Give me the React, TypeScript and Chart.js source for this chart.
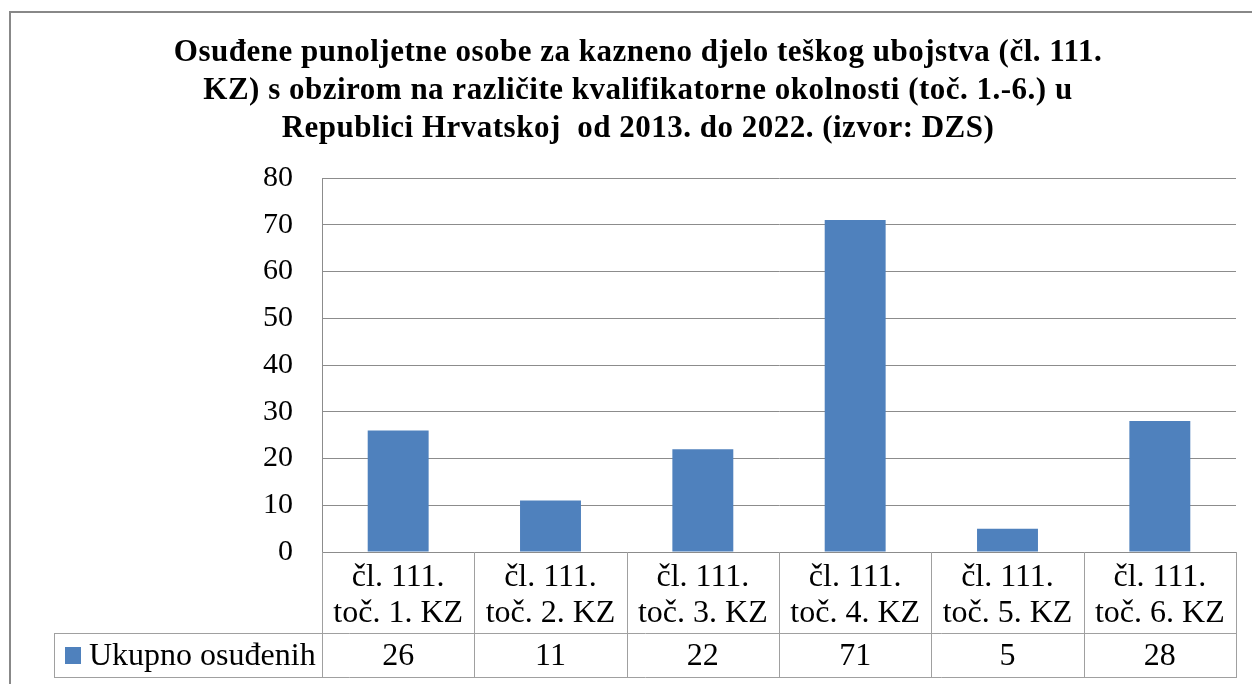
import React, { useEffect, useRef } from "react";
import { Chart, registerables } from "chart.js";

Chart.register(...registerables);

const titleLines: string[] = [
  "Osuđene punoljetne osobe za kazneno djelo teškog ubojstva (čl. 111.",
  "KZ) s obzirom na različite kvalifikatorne okolnosti (toč. 1.-6.) u",
  "Republici Hrvatskoj  od 2013. do 2022. (izvor: DZS)",
];

const categoryLines: string[][] = [
  ["čl. 111.", "toč. 1. KZ"],
  ["čl. 111.", "toč. 2. KZ"],
  ["čl. 111.", "toč. 3. KZ"],
  ["čl. 111.", "toč. 4. KZ"],
  ["čl. 111.", "toč. 5. KZ"],
  ["čl. 111.", "toč. 6. KZ"],
];

const categories: string[] = categoryLines.map((l) => l.join(" "));

const seriesName = "Ukupno osuđenih";
const seriesValues: number[] = [26, 11, 22, 71, 5, 28];

const yMin = 0;
const yMax = 80;
const yStep = 10;

const BAR_COLOR = "#4F81BD";
const GRID_COLOR = "#8c8c8c";
const TABLE_COLOR = "#a0a0a0";
const SERIF = "'Liberation Serif', 'Times New Roman', serif";

const tablePlugin = {
  id: "excelTable",
  afterDraw(chart: any) {
    const ctx: CanvasRenderingContext2D = chart.ctx;
    const area = chart.chartArea;
    const xs = chart.scales.x;
    ctx.save();

    // outer frame
    ctx.strokeStyle = "#888888";
    ctx.lineWidth = 2;
    ctx.strokeRect(10, 12, 1400, 800);

    // title
    ctx.fillStyle = "#000";
    ctx.font = `bold 31px ${SERIF}`;
    (ctx as any).letterSpacing = "0.5px";
    ctx.textAlign = "center";
    ctx.textBaseline = "alphabetic";
    const tBase = [61, 99, 137];
    titleLines.forEach((t, i) => ctx.fillText(t, 638, tBase[i]));
    (ctx as any).letterSpacing = "0px";

    // table geometry
    const rowTop = area.bottom;
    const rowMid = area.bottom + 81;
    const rowBot = area.bottom + 125;
    const legendLeft = 54;
    const n = chart.data.labels.length;
    const bounds: number[] = [area.left];
    for (let i = 1; i < n; i++) {
      bounds.push((xs.getPixelForValue(i - 1) + xs.getPixelForValue(i)) / 2);
    }
    bounds.push(area.right);

    ctx.strokeStyle = TABLE_COLOR;
    ctx.lineWidth = 1;
    ctx.beginPath();
    bounds.forEach((bx) => {
      const x = Math.round(bx) + 0.5;
      ctx.moveTo(x, rowTop);
      ctx.lineTo(x, rowBot);
    });
    ctx.moveTo(legendLeft + 0.5, rowMid);
    ctx.lineTo(legendLeft + 0.5, rowBot);
    ctx.moveTo(legendLeft, rowMid + 0.5);
    ctx.lineTo(area.right + 1, rowMid + 0.5);
    ctx.moveTo(legendLeft, rowBot + 0.5);
    ctx.lineTo(area.right + 1, rowBot + 0.5);
    ctx.stroke();

    // category labels and values
    ctx.fillStyle = "#000";
    ctx.font = `32px ${SERIF}`;
    ctx.textAlign = "center";
    for (let i = 0; i < n; i++) {
      const cx = xs.getPixelForValue(i);
      categoryLines[i].forEach((line, j) => {
        ctx.fillText(line, cx, rowTop + 34 + j * 36);
      });
      const v = chart.data.datasets[0].data[i];
      ctx.fillText(String(v), cx, rowBot - 12);
    }

    // legend key
    ctx.fillStyle = chart.data.datasets[0].backgroundColor;
    ctx.fillRect(65, rowMid + 14, 16, 17);
    ctx.fillStyle = "#000";
    ctx.textAlign = "left";
    ctx.fillText(chart.data.datasets[0].label, 89, rowBot - 12);

    ctx.restore();
  },
};

export default function App() {
  const ref = useRef<HTMLCanvasElement | null>(null);

  useEffect(() => {
    if (!ref.current) return;
    const chart = new Chart(ref.current, {
      type: "bar",
      data: {
        labels: categories,
        datasets: [
          {
            label: seriesName,
            data: seriesValues,
            backgroundColor: BAR_COLOR,
            borderWidth: 0,
            barPercentage: 0.4,
            categoryPercentage: 1,
          },
        ],
      },
      options: {
        responsive: false,
        animation: false,
        devicePixelRatio: 1,
        layout: { padding: { top: 178, right: 16, left: 0, bottom: 0 } },
        plugins: {
          legend: { display: false },
          title: { display: false },
          tooltip: { enabled: false },
        },
        scales: {
          x: {
            grid: { display: false },
            border: { display: false },
            ticks: { display: false },
            afterFit: (s: any) => {
              s.height = 132;
            },
          },
          y: {
            min: yMin,
            max: yMax,
            ticks: {
              stepSize: yStep,
              color: "#000",
              font: { family: SERIF, size: 30 },
              padding: 29,
            },
            grid: { color: GRID_COLOR, lineWidth: 1, drawTicks: false },
            border: { display: true, color: GRID_COLOR, width: 1 },
            afterFit: (s: any) => {
              s.width = 322;
            },
          },
        },
      },
      plugins: [tablePlugin],
    });
    return () => chart.destroy();
  }, []);

  return (
    <div style={{ position: "absolute", left: 0, top: 0, width: 1252, height: 684, background: "#fff" }}>
      <canvas ref={ref} width={1252} height={684} style={{ width: 1252, height: 684 }} />
    </div>
  );
}
